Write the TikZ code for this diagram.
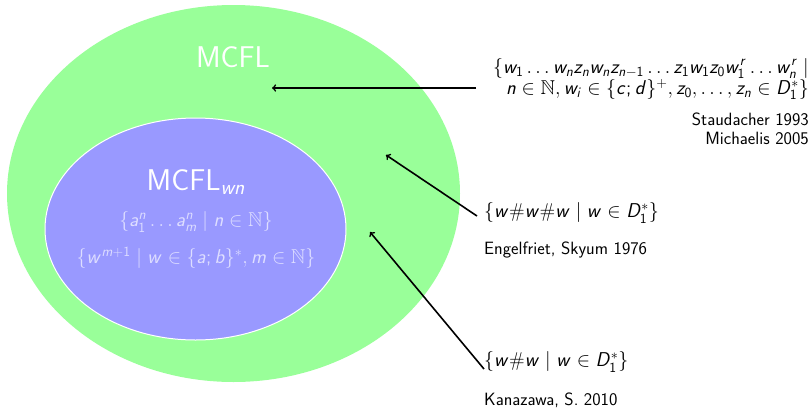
\RequirePackage{fix-cm}
\documentclass[tikz,border=0pt]{standalone}
\usepackage{amssymb}
\usetikzlibrary{shapes.geometric}
\DeclareSymbolFont{sfletters}{OT1}{cmss}{m}{sl}
\SetSymbolFont{operators}{normal}{OT1}{cmss}{m}{n}
\DeclareMathSymbol{a}{\mathalpha}{sfletters}{`a}
\DeclareMathSymbol{b}{\mathalpha}{sfletters}{`b}
\DeclareMathSymbol{c}{\mathalpha}{sfletters}{`c}
\DeclareMathSymbol{d}{\mathalpha}{sfletters}{`d}
\DeclareMathSymbol{i}{\mathalpha}{sfletters}{`i}
\DeclareMathSymbol{m}{\mathalpha}{sfletters}{`m}
\DeclareMathSymbol{n}{\mathalpha}{sfletters}{`n}
\DeclareMathSymbol{r}{\mathalpha}{sfletters}{`r}
\DeclareMathSymbol{w}{\mathalpha}{sfletters}{`w}
\DeclareMathSymbol{z}{\mathalpha}{sfletters}{`z}
\DeclareMathSymbol{D}{\mathalpha}{sfletters}{`D}
\definecolor{outerfill}{RGB}{153,255,153}
\definecolor{innerfill}{RGB}{153,153,255}
\definecolor{innertext}{RGB}{222,222,255}
\tikzset{
  mathfont/.style={font=\fontsize{20}{18}\selectfont\sffamily},
  textfont/.style={font=\fontsize{17.8}{19}\selectfont\sffamily},
  bigtitle/.style={font=\fontsize{30}{34}\selectfont\sffamily, text=white},
  conn/.style={->, line width=1.6pt, >=to},
}
\begin{document}
\begin{tikzpicture}[x=1pt,y=-1pt]
\useasboundingbox (0,0) rectangle (812,408);
\node[ellipse, fill=outerfill, minimum width=453pt, minimum height=377pt, inner sep=0pt] (outer) at (233.5,193.5) {};
\node[ellipse, fill=innerfill, draw=white, line width=1pt, minimum width=301pt, minimum height=222pt, inner sep=0pt] (inner) at (195.5,229) {};
\node[bigtitle] (mcfl) at (233,57) {MCFL};
\node[bigtitle] (mcflwn) at (196,182) {MCFL$_{wn}$};
\node[mathfont, text=innertext] (set1) at (196,222) {$\{a_1^n\ldots a_m^n \mid n\in\mathbb{N}\}$};
\node[mathfont, text=innertext] (set2) at (196,258) {$\{w^{m+1} \mid w\in\{a;b\}^*, m\in\mathbb{N}\}$};
\node[mathfont, align=right, anchor=north east, inner sep=0pt] (bigset) at (809,58) {$\{w_1\ldots w_n z_n w_n z_{n-1}\ldots z_1 w_1 z_0 w_1^r\ldots w_n^r \mid$\\$n\in\mathbb{N}, w_i\in\{c;d\}^+, z_0,\ldots,z_n\in D_1^*\}$};
\node[textfont, align=right, anchor=north east, inner sep=0pt] (staud) at (809,113) {Staudacher 1993\\Michaelis 2005};
\node[mathfont, anchor=west, inner sep=0pt] (www) at (484,213) {$\{w\#w\#w \mid w\in D_1^*\}$};
\node[textfont, anchor=west, inner sep=0pt] (engel) at (484,250) {Engelfriet, Skyum 1976};
\node[mathfont, anchor=west, inner sep=0pt] (ww) at (484,362) {$\{w\#w \mid w\in D_1^*\}$};
\node[textfont, anchor=west, inner sep=0pt] (kana) at (484,400) {Kanazawa, S. 2010};
\coordinate (t1) at (476,88);
\coordinate (h1) at (272,88);
\coordinate (t2) at (477,216);
\coordinate (h2) at (386,155);
\coordinate (t3) at (484,369);
\coordinate (h3) at (370,232);
\draw[conn] (t1) -- (h1);
\draw[conn] (t2) -- (h2);
\draw[conn] (t3) -- (h3);
\end{tikzpicture}
\end{document}
